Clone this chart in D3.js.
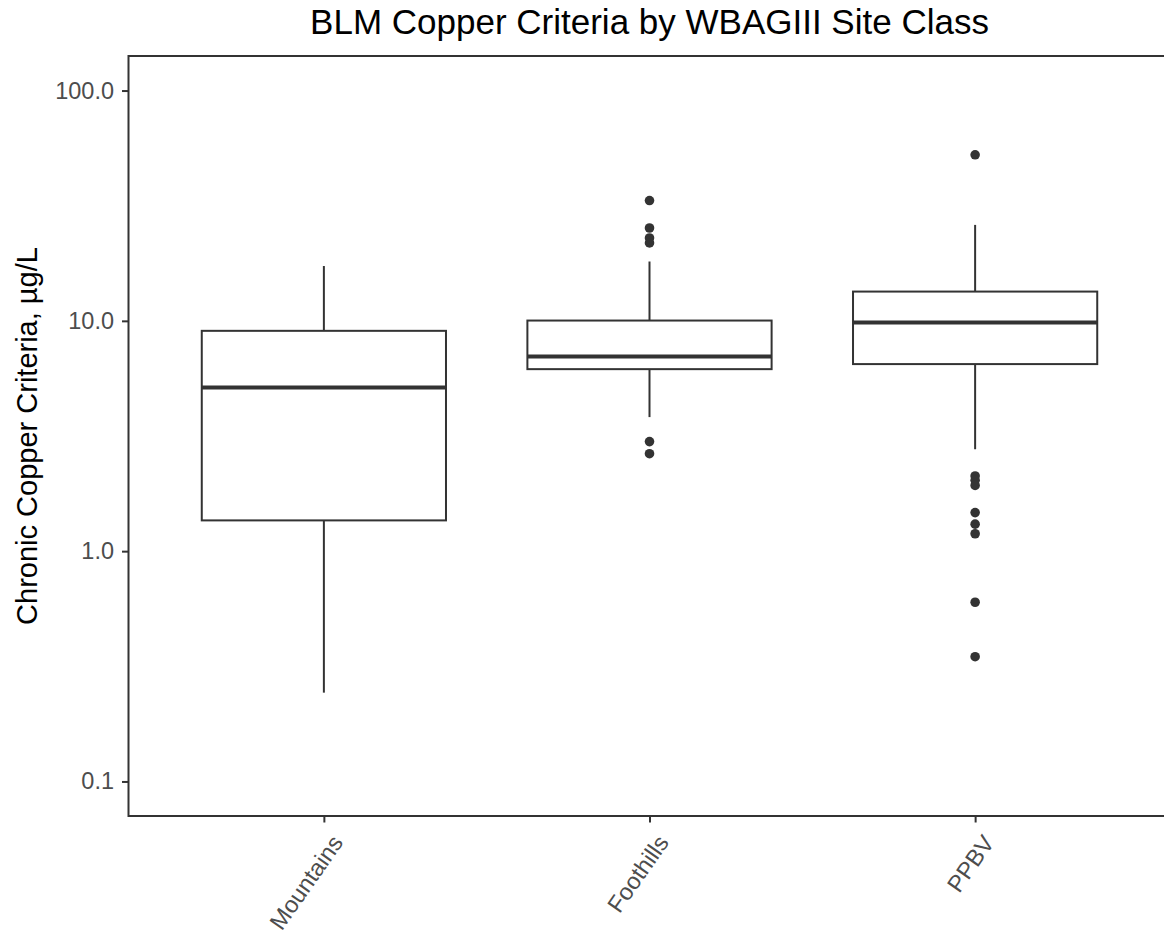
<!DOCTYPE html>
<html>
<head>
<meta charset="utf-8">
<script src="https://cdn.jsdelivr.net/npm/d3@7"></script>
<style>
  html, body { margin: 0; padding: 0; background: #fff; }
  svg { display: block; font-family: "Liberation Sans", Arial, sans-serif; }
</style>
</head>
<body>
<svg id="chart" width="1164" height="936"></svg>
<script>
// Site classes and their box-plot summaries (chronic Cu criteria, µg/L)
const categories = ["Mountains", "Foothills", "PPBV"];
const lowerWhisker = [0.243, 3.82, 2.77];
const q1 = [1.36, 6.17, 6.49];
const median = [5.13, 7.0, 9.83];
const q3 = [9.05, 10.03, 13.4];
const upperWhisker = [17.3, 18.1, 26.1];
const outliers = [
  [],
  [33.3, 25.3, 22.9, 21.8, 2.99, 2.65],
  [52.6, 2.12, 2.03, 1.93, 1.47, 1.31, 1.19, 0.60, 0.348]
];
const yTicks = [0.1, 1, 10, 100];

const title = "BLM Copper Criteria by WBAGIII Site Class";
const yTitle = "Chronic Copper Criteria, µg/L";

const svg = d3.select("#chart");
const panel = { left: 128.5, right: 1170.5, top: 56, bottom: 816 };
const ink = "#333333";
const lineW = 2;

const x = d3.scalePoint()
  .domain(categories)
  .range([panel.left, panel.right])
  .padding(0.6);

// log axis limited to 0.1–100, expanded 5% of the span on each side
const y = d3.scaleLog()
  .domain([Math.pow(10, -1.15), Math.pow(10, 2.15)])
  .range([panel.bottom, panel.top]);

const boxWidth = x.step() * 0.75;

const stats = categories.map((c, i) => ({
  cat: c,
  lo: lowerWhisker[i], q1: q1[i], med: median[i], q3: q3[i], hi: upperWhisker[i],
  out: outliers[i]
}));

// panel background
svg.append("rect")
  .attr("x", panel.left).attr("y", panel.top)
  .attr("width", panel.right - panel.left)
  .attr("height", panel.bottom - panel.top)
  .attr("fill", "#fff");

const g = svg.append("g");

const box = g.selectAll("g.box").data(stats).join("g").attr("class", "box");

// whiskers
box.append("line")
  .attr("x1", d => x(d.cat)).attr("x2", d => x(d.cat))
  .attr("y1", d => y(d.q3)).attr("y2", d => y(d.hi))
  .attr("stroke", ink).attr("stroke-width", lineW);
box.append("line")
  .attr("x1", d => x(d.cat)).attr("x2", d => x(d.cat))
  .attr("y1", d => y(d.q1)).attr("y2", d => y(d.lo))
  .attr("stroke", ink).attr("stroke-width", lineW);

// boxes
box.append("rect")
  .attr("x", d => x(d.cat) - boxWidth / 2)
  .attr("width", boxWidth)
  .attr("y", d => y(d.q3))
  .attr("height", d => y(d.q1) - y(d.q3))
  .attr("fill", "#fff")
  .attr("stroke", ink).attr("stroke-width", lineW);

// medians
box.append("line")
  .attr("x1", d => x(d.cat) - boxWidth / 2)
  .attr("x2", d => x(d.cat) + boxWidth / 2)
  .attr("y1", d => y(d.med)).attr("y2", d => y(d.med))
  .attr("stroke", ink).attr("stroke-width", 4);

// outliers
box.selectAll("circle")
  .data(d => d.out.map(v => ({ cat: d.cat, v })))
  .join("circle")
  .attr("cx", d => x(d.cat))
  .attr("cy", d => y(d.v))
  .attr("r", 4.8)
  .attr("fill", ink);

// panel border
svg.append("rect")
  .attr("x", panel.left).attr("y", panel.top)
  .attr("width", panel.right - panel.left)
  .attr("height", panel.bottom - panel.top)
  .attr("fill", "none")
  .attr("stroke", ink).attr("stroke-width", lineW);

// y axis
const yAxis = d3.axisLeft(y)
  .tickValues(yTicks)
  .tickFormat(d3.format(".1f"))
  .tickSize(6.5)
  .tickPadding(8);
const ya = svg.append("g")
  .attr("transform", `translate(${panel.left},0)`)
  .call(yAxis);
ya.select(".domain").remove();
ya.selectAll(".tick line").attr("stroke", ink).attr("stroke-width", lineW);
ya.selectAll(".tick text")
  .attr("fill", "#4d4d4d")
  .style("font-size", "23.5px")
  .style("font-family", "'Liberation Sans', Arial, sans-serif");

// x axis
const xAxis = d3.axisBottom(x).tickSize(6.5).tickFormat(d => d);
const xa = svg.append("g")
  .attr("transform", `translate(0,${panel.bottom})`)
  .call(xAxis);
xa.select(".domain").remove();
xa.selectAll(".tick line").attr("stroke", ink).attr("stroke-width", lineW);
xa.selectAll(".tick text")
  .attr("fill", "#4d4d4d")
  .style("font-size", "23.5px")
  .style("font-family", "'Liberation Sans', Arial, sans-serif")
  .attr("text-anchor", "end")
  .attr("x", 0).attr("y", 0).attr("dy", "0.71em")
  .attr("transform", "translate(6,17) rotate(-55)");

// titles
svg.append("text")
  .attr("x", (panel.left + panel.right) / 2)
  .attr("y", 34)
  .attr("text-anchor", "middle")
  .attr("fill", "#000")
  .style("font-size", "35px")
  .text(title);

svg.append("text")
  .attr("transform", `translate(37,${(panel.top + panel.bottom) / 2}) rotate(-90)`)
  .attr("text-anchor", "middle")
  .attr("fill", "#000")
  .style("font-size", "29px")
  .text(yTitle);
</script>
</body>
</html>
